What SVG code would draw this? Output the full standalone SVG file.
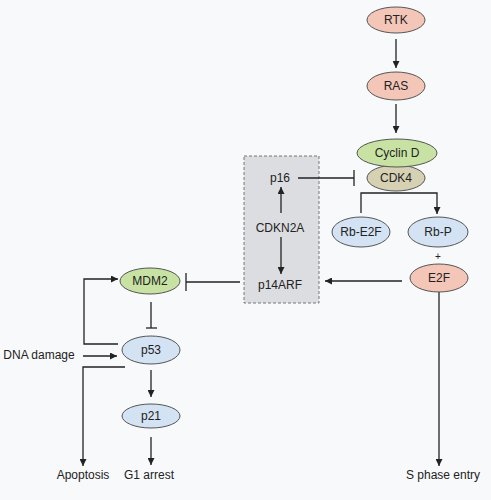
<svg xmlns="http://www.w3.org/2000/svg" width="491" height="500" viewBox="0 0 491 500">
<defs>
<marker id="ah" viewBox="0 0 10 10" refX="10" refY="5" markerWidth="7" markerHeight="7" markerUnits="userSpaceOnUse" orient="auto"><path d="M0,0 L10,5 L0,10 z" fill="#222"/></marker>
<style>
text{font-family:"Liberation Sans",Arial,sans-serif;font-size:12px;fill:#222;text-anchor:middle}
.n{stroke:#555;stroke-width:1}
.pink{fill:#f3c6b8}.green{fill:#c8e2a4}.tan{fill:#d6d1b2}.blue{fill:#d3e3f3}
.c{fill:none;stroke:#222;stroke-width:1.3}
.a{marker-end:url(#ah)}
</style>
</defs>
<rect width="491" height="500" fill="#f8f9fb"/>
<g id="cdkn2a-box"><rect x="244" y="156" width="75" height="147" fill="#dcdde1" stroke="#777" stroke-dasharray="3,2"/></g>
<g id="connectors">
<line class="c a" x1="396" y1="39" x2="396" y2="68"/>
<line class="c a" x1="396" y1="104" x2="396" y2="133"/>
<line class="c" x1="298" y1="178" x2="354" y2="178"/><line class="c" x1="354" y1="170" x2="354" y2="186"/>
<line class="c a" x1="281" y1="213" x2="281" y2="187"/>
<line class="c a" x1="281" y1="237" x2="281" y2="274"/>
<polyline class="c a" points="361,213 361,193 437,193 437,214"/>
<line class="c a" x1="402" y1="281" x2="325" y2="281"/>
<line class="c a" x1="439" y1="292" x2="439" y2="466"/>
<line class="c" x1="240" y1="282" x2="186" y2="282"/><line class="c" x1="186" y1="273" x2="186" y2="291"/>
<line class="c" x1="151" y1="302" x2="151" y2="328"/><line class="c" x1="146" y1="328" x2="157" y2="328"/>
<polyline class="c a" points="118,344 84,344 84,279 118,279"/>
<line class="c a" x1="83" y1="356" x2="117" y2="356"/>
<polyline class="c a" points="125,367 83,367 83,466"/>
<line class="c a" x1="151" y1="370" x2="151" y2="397"/>
<line class="c a" x1="151" y1="437" x2="151" y2="465"/>
</g>
<g id="RTK"><ellipse class="n pink" cx="396" cy="20" rx="29" ry="13"/><text x="396" y="24">RTK</text></g>
<g id="RAS"><ellipse class="n pink" cx="396" cy="86" rx="29" ry="14"/><text x="396" y="90">RAS</text></g>
<g id="CDK4"><ellipse class="n tan" cx="396" cy="178" rx="29" ry="13"/><text x="396" y="182">CDK4</text></g>
<g id="CyclinD"><ellipse class="n green" cx="397" cy="153" rx="40" ry="14"/><text x="397" y="157">Cyclin D</text></g>
<g id="p16"><text x="280" y="182">p16</text></g>
<g id="CDKN2A"><text x="280" y="232">CDKN2A</text></g>
<g id="p14ARF"><text x="280" y="289">p14ARF</text></g>
<g id="RbE2F"><ellipse class="n blue" cx="361" cy="232" rx="29" ry="15"/><text x="361" y="236">Rb-E2F</text></g>
<g id="RbP"><ellipse class="n blue" cx="438" cy="232" rx="30" ry="15"/><text x="438" y="236">Rb-P</text></g>
<g id="plus"><text x="438" y="260" style="font-size:10px">+</text></g>
<g id="E2F"><ellipse class="n pink" cx="439" cy="278" rx="29" ry="14"/><text x="439" y="282">E2F</text></g>
<g id="MDM2"><ellipse class="n green" cx="150" cy="281" rx="30" ry="13"/><text x="150" y="285">MDM2</text></g>
<g id="p53"><ellipse class="n blue" cx="151" cy="350" rx="29" ry="14"/><text x="151" y="354">p53</text></g>
<g id="p21"><ellipse class="n blue" cx="151" cy="416" rx="29" ry="12"/><text x="151" y="420">p21</text></g>
<g id="DNAdamage"><text x="39" y="359">DNA damage</text></g>
<g id="Apoptosis"><text x="83" y="479">Apoptosis</text></g>
<g id="G1arrest"><text x="149" y="479">G1 arrest</text></g>
<g id="Sphase"><text x="443" y="479">S phase entry</text></g>
</svg>
